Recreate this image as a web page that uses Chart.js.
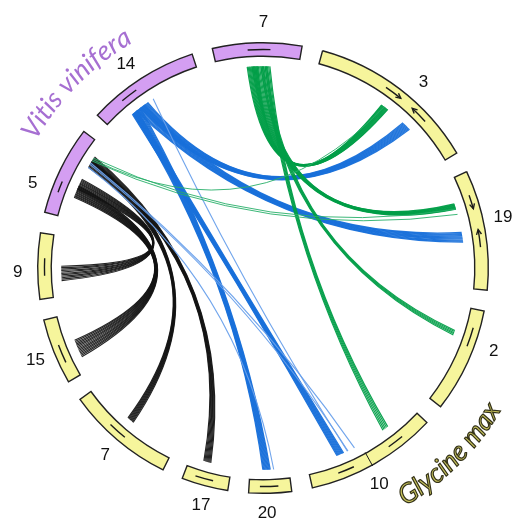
<!DOCTYPE html>
<html>
<head>
<meta charset="utf-8">
<script src="https://cdn.jsdelivr.net/npm/chart.js@4.4.1/dist/chart.umd.min.js"></script>
<style>
  html, body { margin: 0; padding: 0; background: #fff; }
  #wrap { position: relative; width: 523px; height: 519px; }
</style>
</head>
<body>
<div id="wrap"><canvas id="chart"></canvas></div>
<script>
// chromosomes, clockwise from the top (size = degrees of arc)
var chromNames   = ['7', '3', '19', '2', '10', '20', '17', '7', '15', '9', '5', '14'];
var chromSpecies = ['V', 'G', 'G', 'G', 'G', 'G', 'G', 'G', 'G', 'G', 'V', 'V'];
var chromSizes   = [23, 44, 31, 27, 34, 11, 12, 28, 17, 17, 23, 29];

// link bundles: chromosome index + relative position (0..1) at both ends
var linkType      = ['black', 'black', 'black', 'black',
                     'blue', 'blue', 'blue', 'blue',
                     'lightblue', 'lightblue', 'lightblue',
                     'green', 'green', 'green', 'green',
                     'lightgreen', 'lightgreen'];
var linkFrom      = [10, 10, 10, 10, 11, 11, 11, 11, 11, 10, 10, 0, 0, 0, 0, 10, 10];
var linkFromStart = [0.38, 0.27, 0.68, 0.75, 0.34, 0.29, 0.24, 0.25, 0.49, 0.72, 0.68, 0.37, 0.43, 0.54, 0.59, 0.79, 0.77];
var linkFromEnd   = [0.51, 0.42, 0.77, 0.83, 0.43, 0.39, 0.30, 0.34, 0.50, 0.74, 0.68, 0.50, 0.57, 0.61, 0.65, 0.79, 0.81];
var linkTo        = [9, 8, 7, 6, 1, 2, 4, 5, 4, 4, 5, 1, 2, 3, 4, 1, 2];
var linkToStart   = [0.26, 0.25, 0.49, 0.50, 0.65, 0.49, 0.68, 0.48, 0.64, 0.58, 0.39, 0.47, 0.22, 0.26, 0.25, 0.49, 0.27];
var linkToEnd     = [0.50, 0.55, 0.56, 0.67, 0.71, 0.58, 0.74, 0.67, 0.65, 0.64, 0.39, 0.52, 0.27, 0.31, 0.30, 0.49, 0.32];
var linkCount     = [11, 14, 8, 8, 10, 10, 9, 10, 1, 2, 1, 12, 10, 5, 5, 1, 2];

// syntenic blocks marked on the chromosomes (dir: 0 none, 1 forward, -1 reverse)
var blockChrom = [0, 11, 10, 9, 8, 7, 6, 5, 4, 4, 3, 2, 2, 1, 1];
var blockStart = [0.39, 0.25, 0.26, 0.35, 0.28, 0.46, 0.35, 0.30, 0.21, 0.65, 0.18, 0.19, 0.49, 0.43, 0.63];
var blockEnd   = [0.65, 0.41, 0.39, 0.62, 0.57, 0.64, 0.75, 0.74, 0.34, 0.78, 0.37, 0.31, 0.64, 0.54, 0.74];
var blockDir   = [0, 0, 0, 0, 0, 0, 0, 0, 0, 0, 0, 1, -1, 1, -1];
var breakChrom = [4];
var breakPos   = [0.52];

var speciesNames = { V: 'Vitis vinifera', G: 'Glycine max' };

var palette = {
    black:      { color: 'rgba(18,18,18,0.92)', width: 1.15 },
    blue:       { color: 'rgba(24,112,218,0.95)', width: 1.25 },
    lightblue:  { color: 'rgba(105,160,235,0.95)', width: 1.1 },
    green:      { color: 'rgba(0,158,72,0.95)', width: 1.2 },
    lightgreen: { color: 'rgba(40,175,105,0.9)', width: 1.0 }
};
var speciesColor = { V: '#d49ef2', G: '#f6f59c' };

// doughnut data: chromosomes separated by equal gaps
var sizeSum = chromSizes.reduce(function (a, b) { return a + b; }, 0);
var gap = (360 - sizeSum) / chromSizes.length;
var ringData = [], ringLabels = [], ringColors = [], ringBorders = [];
for (var i = 0; i < chromSizes.length; i++) {
    ringData.push(chromSizes[i]);
    ringLabels.push(chromSpecies[i] + chromNames[i]);
    ringColors.push(speciesColor[chromSpecies[i]]);
    ringBorders.push(1.4);
    ringData.push(gap);
    ringLabels.push('');
    ringColors.push('rgba(0,0,0,0)');
    ringBorders.push(0);
}

function drawArcText(ctx, text, cx, cy, r, mid, dir, outline) {
    // dir 1: reads clockwise, tops outward; dir -1: reads anticlockwise, tops inward
    var total = ctx.measureText(text).width;
    var a = mid - dir * total / 2 / r;
    for (var i = 0; i < text.length; i++) {
        var ch = text[i];
        var w = ctx.measureText(ch).width;
        var ac = a + dir * (w / 2) / r;
        ctx.save();
        ctx.translate(cx + r * Math.cos(ac), cy + r * Math.sin(ac));
        ctx.rotate(ac + dir * Math.PI / 2);
        ctx.fillText(ch, 0, 0);
        if (outline) ctx.strokeText(ch, 0, 0);
        ctx.restore();
        a += dir * w / r;
    }
}

var circosPlugin = {
    id: 'circos',
    afterDatasetsDraw: function (chart, args, opts) {
        var ctx = chart.ctx;
        var arcs = chart.getDatasetMeta(0).data;
        var cx = arcs[0].x, cy = arcs[0].y;
        var rOut = arcs[0].outerRadius, rIn = arcs[0].innerRadius;
        var rMid = (rOut + rIn) / 2;
        var rLink = rIn - 10;

        function angleAt(ci, f) {
            var a = arcs[ci * 2];
            return a.startAngle + f * (a.endAngle - a.startAngle);
        }

        // links as quadratic curves bent towards the centre
        ctx.save();
        ctx.lineCap = 'butt';
        for (var k = 0; k < linkType.length; k++) {
            var st = palette[linkType[k]];
            ctx.strokeStyle = st.color;
            ctx.lineWidth = st.width;
            var n = linkCount[k];
            for (var s = 0; s < n; s++) {
                var t = n === 1 ? 0.5 : s / (n - 1);
                var a = angleAt(linkFrom[k], linkFromStart[k] + t * (linkFromEnd[k] - linkFromStart[k]));
                var b = angleAt(linkTo[k], linkToEnd[k] - t * (linkToEnd[k] - linkToStart[k]));
                var mx = Math.cos(a) + Math.cos(b), my = Math.sin(a) + Math.sin(b);
                var len = Math.sqrt(mx * mx + my * my);
                var qx = cx, qy = cy;
                if (len > 0.001) {
                    qx = cx + opts.bezier * mx / len;
                    qy = cy + opts.bezier * my / len;
                }
                ctx.beginPath();
                ctx.moveTo(cx + rLink * Math.cos(a), cy + rLink * Math.sin(a));
                ctx.quadraticCurveTo(qx, qy, cx + rLink * Math.cos(b), cy + rLink * Math.sin(b));
                ctx.stroke();
            }
        }
        ctx.restore();

        // block marks inside the ideogram
        ctx.save();
        ctx.strokeStyle = '#1a1a1a';
        ctx.lineWidth = 1.4;
        for (var j = 0; j < blockChrom.length; j++) {
            var a0 = angleAt(blockChrom[j], blockStart[j]);
            var a1 = angleAt(blockChrom[j], blockEnd[j]);
            ctx.beginPath();
            ctx.arc(cx, cy, rMid, a0, a1);
            ctx.stroke();
            if (blockDir[j] !== 0) {
                var tip = blockDir[j] > 0 ? a1 : a0;
                var d = blockDir[j];
                var px = cx + rMid * Math.cos(tip), py = cy + rMid * Math.sin(tip);
                var tx = -Math.sin(tip) * d, ty = Math.cos(tip) * d;
                var nx = Math.cos(tip), ny = Math.sin(tip);
                ctx.beginPath();
                ctx.moveTo(px - 5 * tx + 2.5 * nx, py - 5 * ty + 2.5 * ny);
                ctx.lineTo(px, py);
                ctx.lineTo(px - 5 * tx - 2.5 * nx, py - 5 * ty - 2.5 * ny);
                ctx.stroke();
            }
        }
        ctx.lineWidth = 1;
        for (var m = 0; m < breakChrom.length; m++) {
            var ab = angleAt(breakChrom[m], breakPos[m]);
            ctx.beginPath();
            ctx.moveTo(cx + (rIn - 1) * Math.cos(ab), cy + (rIn - 1) * Math.sin(ab));
            ctx.lineTo(cx + (rOut + 1) * Math.cos(ab), cy + (rOut + 1) * Math.sin(ab));
            ctx.stroke();
        }
        ctx.restore();

        // chromosome numbers
        ctx.save();
        ctx.fillStyle = '#111';
        ctx.font = '17px "Liberation Sans", Arial, sans-serif';
        ctx.textAlign = 'center';
        ctx.textBaseline = 'middle';
        for (var c = 0; c < chromNames.length; c++) {
            var al = angleAt(c, opts.labelAt[c]);
            var rl = rOut + 20;
            ctx.fillText(chromNames[c], cx + rl * Math.cos(al), cy + rl * Math.sin(al));
        }
        ctx.restore();

        // species names along the circle
        ctx.save();
        ctx.textAlign = 'center';
        ctx.textBaseline = 'alphabetic';
        ctx.font = 'italic 27px Lato, "Open Sans", sans-serif';
        ctx.fillStyle = '#a66fd2';
        drawArcText(ctx, speciesNames.V, cx, cy, rOut + 35, (314.5 - 90) * Math.PI / 180, 1, false);
        ctx.font = 'italic 27px Lato, "Open Sans", sans-serif';
        ctx.fillStyle = '#c9c45c';
        ctx.strokeStyle = '#34321a';
        ctx.lineWidth = 1.2;
        drawArcText(ctx, speciesNames.G, cx, cy, rOut + 52, (135 - 90) * Math.PI / 180, -1, true);
        ctx.restore();
    }
};

new Chart(document.getElementById('chart'), {
    type: 'doughnut',
    data: {
        labels: ringLabels,
        datasets: [{
            data: ringData,
            backgroundColor: ringColors,
            borderColor: '#222',
            borderWidth: ringBorders,
            borderJoinStyle: 'miter',
            hoverOffset: 0
        }]
    },
    options: {
        responsive: true,
        maintainAspectRatio: false,
        animation: false,
        events: [],
        rotation: -13,
        cutout: '94%',
        layout: { padding: { left: 37, right: 34, top: 42, bottom: 25 } },
        plugins: {
            legend: { display: false },
            tooltip: { enabled: false },
            circos: {
                bezier: 28,
                labelAt: [0.57, 0.58, 0.43, 0.33, 0.54, 0.58, 0.47, 0.49, 0.49, 0.41, 0.25, 0.46]
            }
        }
    },
    plugins: [circosPlugin]
});
</script>
</body>
</html>
